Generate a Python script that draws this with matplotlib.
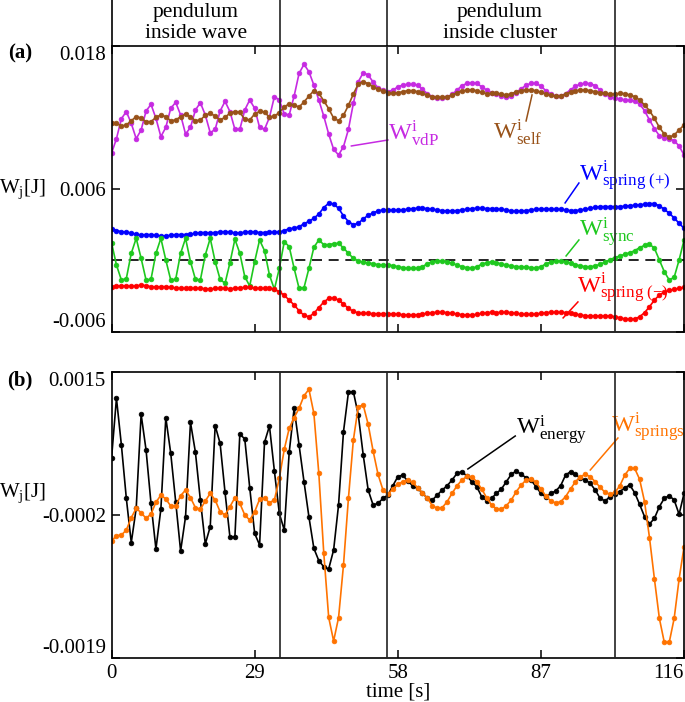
import matplotlib
matplotlib.use('Agg')
import matplotlib.pyplot as plt
import numpy as np

plt.rcParams['font.family'] = 'Liberation Serif'
plt.rcParams['mathtext.fontset'] = 'custom'
plt.rcParams['mathtext.rm'] = 'Liberation Serif'
plt.rcParams['mathtext.it'] = 'Liberation Serif:italic'
plt.rcParams['mathtext.bf'] = 'Liberation Serif:bold'

time = np.arange(0, 117)  # s, one sample per second

# panel (a), values in 1e-3 J
w_vdp = np.array([
    8.99, 10.22, 11.90, 12.49, 11.51, 10.22, 10.95, 12.54, 13.10, 11.93,
    10.39, 11.17, 12.77, 13.27, 12.21, 10.61, 11.17, 12.63, 13.24, 12.21,
    10.72, 11.00, 12.54, 13.35, 12.49, 11.00, 11.00, 12.63, 13.47, 12.77,
    11.17, 11.00, 12.01, 13.75, 13.47, 12.29, 12.21, 13.80, 15.70, 16.46,
    15.84, 14.72, 13.47, 12.12, 10.61, 9.33, 8.85, 9.55, 11.00, 13.19,
    15.00, 15.76, 15.56, 14.98, 14.50, 14.28, 14.16, 14.30, 14.56, 14.72,
    14.78, 14.78, 14.72, 14.36, 14.00, 13.75, 13.61, 13.61, 13.69, 13.94,
    14.30, 14.67, 14.86, 14.92, 14.86, 14.58, 14.30, 14.08, 13.97, 13.80,
    13.69, 13.80, 14.08, 14.42, 14.70, 14.86, 14.86, 14.64, 14.25, 13.97,
    13.80, 13.80, 14.00, 14.33, 14.61, 14.81, 14.86, 14.84, 14.67, 14.30,
    13.94, 13.75, 13.63, 13.55, 13.47, 13.44, 13.38, 13.13, 12.57, 11.79,
    11.06, 10.47, 10.28, 10.22, 10.05, 9.61, 8.85]) * 1e-3

w_self = np.array([
    11.51, 11.51, 11.28, 11.37, 11.73, 12.07, 11.95, 11.65, 11.65, 12.01,
    12.21, 12.07, 11.73, 11.79, 12.07, 12.29, 12.07, 11.73, 11.79, 12.18,
    12.35, 12.12, 11.79, 12.01, 12.37, 12.49, 12.43, 11.84, 11.79, 12.29,
    12.51, 12.46, 12.01, 12.12, 12.40, 12.91, 13.13, 13.02, 12.88, 13.30,
    13.80, 14.25, 14.02, 13.41, 12.74, 11.95, 11.73, 12.18, 13.02, 13.97,
    14.81, 15.00, 14.84, 14.58, 14.36, 14.19, 14.08, 14.02, 14.08, 14.16,
    14.25, 14.25, 14.16, 14.02, 13.86, 13.75, 13.69, 13.69, 13.75, 13.88,
    14.08, 14.22, 14.30, 14.30, 14.25, 14.11, 14.00, 14.02, 14.02, 13.97,
    13.88, 14.00, 14.14, 14.25, 14.30, 14.30, 14.25, 14.11, 13.97, 13.86,
    13.80, 13.80, 13.97, 14.14, 14.25, 14.30, 14.30, 14.25, 14.16, 14.08,
    14.02, 13.97, 13.97, 14.02, 14.00, 13.88, 13.75, 13.47, 13.05, 12.57,
    11.93, 11.17, 10.61, 10.33, 10.53, 10.95, 11.37]) * 1e-3

w_spring_plus = np.array([
    2.65, 2.51, 2.42, 2.37, 2.31, 2.20, 2.14, 2.17, 2.17, 2.11,
    2.06, 2.06, 2.11, 2.17, 2.17, 2.17, 2.20, 2.28, 2.34, 2.34,
    2.31, 2.34, 2.39, 2.42, 2.37, 2.31, 2.31, 2.37, 2.42, 2.39,
    2.34, 2.34, 2.37, 2.37, 2.39, 2.51, 2.67, 2.70, 2.84, 3.07,
    3.29, 3.54, 3.90, 4.44, 4.80, 4.74, 4.38, 3.74, 3.26, 3.01,
    3.12, 3.49, 3.79, 3.99, 4.16, 4.24, 4.24, 4.21, 4.21, 4.24,
    4.30, 4.35, 4.38, 4.38, 4.35, 4.30, 4.24, 4.18, 4.16, 4.16,
    4.18, 4.24, 4.30, 4.35, 4.38, 4.38, 4.35, 4.35, 4.32, 4.30,
    4.24, 4.16, 4.13, 4.16, 4.18, 4.24, 4.30, 4.32, 4.32, 4.30,
    4.30, 4.30, 4.24, 4.18, 4.18, 4.24, 4.30, 4.38, 4.46, 4.52,
    4.52, 4.52, 4.52, 4.52, 4.55, 4.60, 4.63, 4.66, 4.72, 4.77,
    4.77, 4.58, 4.30, 3.96, 3.57, 3.12, 2.70]) * 1e-3

w_sync = np.array([
    1.50, -0.38, -1.64, -1.52, 0.60, 1.86, 0.18, -1.64, -1.58, 0.60,
    1.86, 0.04, -1.64, -1.58, 0.60, 1.86, -0.10, -1.58, -1.64, 0.46,
    1.86, -0.10, -1.58, -1.92, -0.18, 1.78, 0.60, -1.36, -2.14, -0.10,
    1.72, 0.82, -1.22, -2.42, -0.66, 1.58, 1.16, -0.66, -2.34, -2.28,
    -0.66, 1.10, 1.72, 1.33, 1.33, 1.41, 1.44, 1.05, 0.60, 0.18,
    -0.04, -0.15, -0.21, -0.27, -0.35, -0.38, -0.38, -0.43, -0.52, -0.60,
    -0.66, -0.66, -0.66, -0.52, -0.27, -0.10, -0.04, -0.04, -0.10, -0.24,
    -0.38, -0.52, -0.60, -0.66, -0.52, -0.32, -0.18, -0.10, -0.18, -0.29,
    -0.38, -0.46, -0.52, -0.52, -0.55, -0.60, -0.63, -0.52, -0.29, -0.13,
    -0.04, -0.04, -0.10, -0.21, -0.35, -0.46, -0.52, -0.52, -0.46, -0.32,
    -0.13, 0.07, 0.24, 0.38, 0.52, 0.66, 0.82, 1.08, 1.27, 1.38,
    1.02, 0.04, -0.94, -1.64, -1.41, 0.04, 1.72]) * 1e-3

w_spring_minus = np.array([
    -2.26, -2.14, -2.14, -2.14, -2.17, -2.14, -2.06, -2.12, -2.20, -2.23,
    -2.20, -2.20, -2.26, -2.31, -2.34, -2.34, -2.34, -2.34, -2.34, -2.37,
    -2.40, -2.34, -2.34, -2.34, -2.37, -2.34, -2.31, -2.26, -2.26, -2.31,
    -2.34, -2.34, -2.34, -2.42, -2.62, -2.93, -3.32, -3.74, -4.21, -4.61,
    -4.72, -4.44, -3.96, -3.49, -3.18, -3.15, -3.32, -3.65, -4.02, -4.27,
    -4.41, -4.44, -4.44, -4.47, -4.47, -4.47, -4.47, -4.49, -4.52, -4.55,
    -4.58, -4.58, -4.55, -4.49, -4.44, -4.38, -4.35, -4.35, -4.38, -4.44,
    -4.49, -4.55, -4.58, -4.58, -4.52, -4.44, -4.38, -4.35, -4.38, -4.35,
    -4.35, -4.38, -4.44, -4.49, -4.52, -4.52, -4.49, -4.44, -4.38, -4.35,
    -4.35, -4.35, -4.38, -4.44, -4.49, -4.58, -4.63, -4.66, -4.66, -4.66,
    -4.66, -4.66, -4.72, -4.80, -4.91, -4.94, -4.91, -4.72, -4.38, -3.88,
    -3.32, -2.90, -2.65, -2.51, -2.42, -2.34, -2.26]) * 1e-3

# panel (b), values in 1e-4 J
w_energy = np.array([
    4.73, 11.87, 6.32, -0.02, -5.29, -1.21, 9.96, 5.72, -0.62, -6.05,
    -1.29, 9.57, 5.33, -0.42, -6.28, -2.20, 9.01, 5.45, -0.22, -5.45,
    -3.39, 8.62, 6.52, 0.69, -4.66, -4.58, 7.63, 7.03, 1.25, -4.18,
    -5.57, 6.64, 8.58, 3.23, -1.81, -3.79, 5.45, 10.68, 6.32, 1.96,
    -2.24, -5.97, -7.43, -8.15, -8.42, -6.16, -0.81, 7.90, 12.58, 12.66,
    9.89, 5.13, 0.97, -0.81, -0.62, -0.02, 0.37, 1.48, 2.55, 2.75,
    2.04, 1.48, 1.17, 0.61, -0.02, -0.22, 0.37, 0.97, 1.48, 2.16,
    2.95, 3.15, 2.63, 1.96, 1.37, 0.18, -0.30, -0.02, 0.57, 1.09,
    1.96, 2.83, 3.23, 2.83, 2.44, 2.16, 1.37, 0.57, 0.14, 0.57,
    0.85, 1.48, 2.75, 3.15, 2.83, 2.36, 2.16, 1.76, 0.97, -0.02,
    -0.34, 0.18, 0.45, 0.77, 1.25, 1.56, 0.65, -0.74, -2.20, -3.07,
    -2.40, -1.01, -0.02, 0.30, -0.22, -1.92, 0.57]) * 1e-4

w_springs = np.array([
    -5.09, -4.46, -4.38, -3.79, -2.32, -1.21, -1.73, -2.40, -1.88, -0.50,
    0.37, -0.10, -0.93, -0.93, 0.29, 0.97, 0.06, -1.13, -1.33, -0.34,
    0.57, -0.22, -1.61, -2.00, -1.01, 0.06, -0.62, -2.00, -2.60, -1.61,
    -0.14, -0.02, -0.54, -0.22, 2.36, 5.80, 8.30, 9.57, 10.68, 12.18,
    12.94, 10.08, 2.95, -6.48, -14.17, -16.98, -14.21, -7.95, -0.02, 6.91,
    10.88, 11.07, 8.78, 5.61, 2.83, 0.97, 0.45, 1.09, 1.64, 1.96,
    2.16, 1.88, 1.25, 0.65, -0.02, -0.89, -1.21, -1.13, -0.42, 0.57,
    1.48, 2.16, 2.59, 2.55, 1.96, 1.09, 0.06, -0.81, -1.29, -1.33,
    -0.89, -0.22, 0.77, 1.56, 2.16, 2.28, 1.88, 1.09, 0.26, -0.34,
    -0.58, -0.42, 0.18, 1.09, 1.96, 2.55, 2.83, 2.55, 1.96, 1.29,
    0.69, 0.45, 0.69, 1.48, 2.75, 3.54, 3.54, 2.24, -0.42, -4.70,
    -9.61, -14.29, -17.14, -17.14, -14.29, -9.61, -5.77]) * 1e-4

events = [34.1, 55.8, 102.0]   # s, regime boundaries
xticks = [0, 29, 58, 87, 116]
yticks_a = [-0.006, 0.006, 0.018]
yticks_b = [-0.0019, -0.0002, 0.0015]

c_vdp = '#c62ae2'
c_self = '#985219'
c_plus = '#0000ff'
c_sync = '#1ec81e'
c_minus = '#ff0000'
c_energy = '#000000'
c_springs = '#ff7300'


def curve(ax, y, c):
    ax.plot(time, y, '-o', color=c, lw=1.2, ms=3.4, mec=c, mew=0.5)


def frame(ax):
    for s in ax.spines.values():
        s.set_linewidth(1.2)
    ax.tick_params(direction='in', length=6, width=1.1, top=True, right=True,
                   labelsize=15, pad=4)
    for e in events:
        ax.axvline(e, color='#222222', lw=1.2, zorder=5)
    ax.set_xlim(0, 116)
    ax.set_xticks(xticks)


fig = plt.figure(figsize=(6.85, 7.02), dpi=100)
L, W = 0.1628, 0.8358
axh = fig.add_axes([L, 0.9345, W, 0.0655])
ax1 = fig.add_axes([L, 0.5271, W, 0.4074])
ax2 = fig.add_axes([L, 0.0627, W, 0.4074])

# header strip
axh.set_xlim(0, 116)
axh.set_ylim(0, 1)
axh.set_xticks([])
axh.set_yticks([])
for k in ['top', 'right', 'bottom']:
    axh.spines[k].set_visible(False)
axh.spines['left'].set_linewidth(1.2)
for e in events:
    axh.axvline(e, color='#222222', lw=1.2)
axh.text(17.1, 0.5, 'pendulum\ninside wave', ha='center', va='center',
         fontsize=15.5, linespacing=1.1)
axh.text(78.7, 0.5, 'pendulum\ninside cluster', ha='center', va='center',
         fontsize=15.5, linespacing=1.1)

# panel (a)
frame(ax1)
ax1.axhline(0, color='k', lw=1.2, ls=(0, (6, 4)))
curve(ax1, w_vdp, c_vdp)
curve(ax1, w_self, c_self)
curve(ax1, w_spring_plus, c_plus)
curve(ax1, w_sync, c_sync)
curve(ax1, w_spring_minus, c_minus)
ax1.set_ylim(-0.006, 0.018)
ax1.set_yticks(yticks_a)
ax1.set_yticklabels(['-0.006', '0.006', '0.018'])
ax1.set_xticklabels([])
ax1.get_yticklabels()[0].set_va('bottom')
ax1.get_yticklabels()[-1].set_va('top')


def label(ax, txt, c, pos, p0, p1):
    ax.text(pos[0], pos[1], txt, color=c, fontsize=17.5, ha='left', va='center')
    ax.plot([p0[0], p1[0]], [p0[1], p1[1]], color=c, lw=1.1)


label(ax1, r'$\mathrm{W}^{\mathrm{i}}_{\mathrm{vdP}}$', c_vdp,
      (56.0, 0.0107), (48.6, 0.00961), (56.0, 0.01011))
label(ax1, r'$\mathrm{W}^{\mathrm{i}}_{\mathrm{self}}$', c_self,
      (77.3, 0.01078), (84.0, 0.01171), (85.2, 0.01389))
label(ax1, r'$\mathrm{W}^{\mathrm{i}}_{\mathrm{spring\ (+)}}$', c_plus,
      (94.8, 0.00717), (91.9, 0.00483), (94.7, 0.00650))
label(ax1, r'$\mathrm{W}^{\mathrm{i}}_{\mathrm{sync}}$', c_sync,
      (94.8, 0.00239), (92.1, 0.00038), (94.7, 0.00172))
label(ax1, r'$\mathrm{W}^{\mathrm{i}}_{\mathrm{spring\ (-)}}$', c_minus,
      (94.4, -0.00231), (91.5, -0.00482), (94.5, -0.00348))

# panel (b)
frame(ax2)
curve(ax2, w_energy, c_energy)
curve(ax2, w_springs, c_springs)
ax2.set_ylim(-0.0019, 0.0015)
ax2.set_yticks(yticks_b)
ax2.set_yticklabels(['-0.0019', '-0.0002', '0.0015'])
ax2.set_xticklabels([str(v) for v in xticks])
ax2.get_yticklabels()[0].set_va('bottom')
ax2.get_yticklabels()[-1].set_va('top')
ax2.get_xticklabels()[-1].set_ha('right')
ax2.set_xlabel('time [s]', fontsize=15, labelpad=0)

label(ax2, r'$\mathrm{W}^{\mathrm{i}}_{\mathrm{energy}}$', c_energy,
      (82.0, 8.10e-4), (72.2, 3.47e-4), (81.8, 7.39e-4))
label(ax2, r'$\mathrm{W}^{\mathrm{i}}_{\mathrm{springs}}$', c_springs,
      (101.3, 8.46e-4), (97.0, 3.35e-4), (102.6, 7.15e-4))

fig.text(0.029, 0.924, '(a)', fontsize=15, fontweight='bold', ha='center', va='center')
fig.text(0.029, 0.458, '(b)', fontsize=15, fontweight='bold', ha='center', va='center')
fig.text(0.033, 0.731, r'W$_\mathrm{j}$[J]', fontsize=15, ha='center', va='center')
fig.text(0.033, 0.298, r'W$_\mathrm{j}$[J]', fontsize=15, ha='center', va='center')

fig.savefig('out.png', dpi=100)
